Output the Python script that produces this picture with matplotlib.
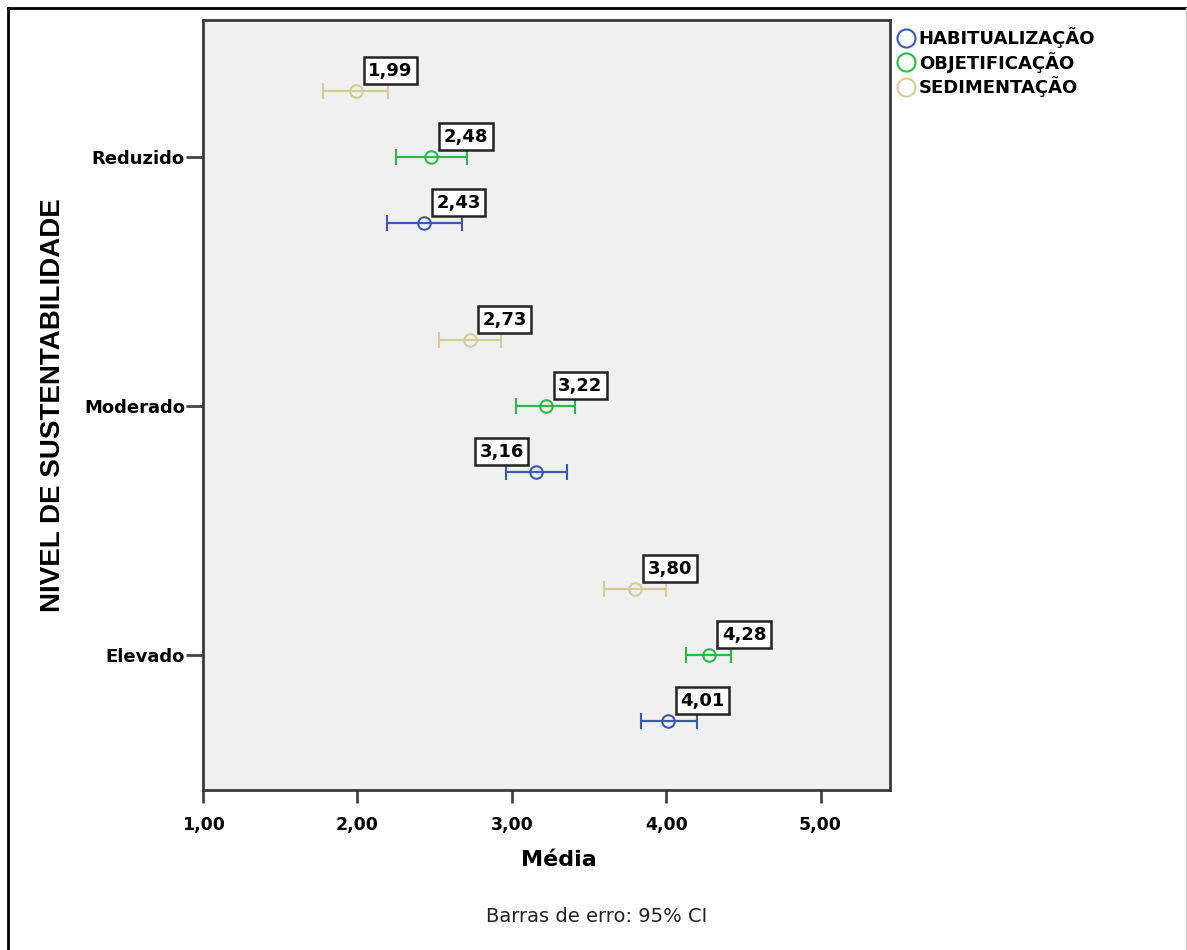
import matplotlib
matplotlib.use('Agg')
from matplotlib import pyplot as plt
from matplotlib.lines import Line2D
from matplotlib.ticker import FuncFormatter

# dados (médias e IC 95%)
niveis = ['Reduzido', 'Moderado', 'Elevado']
series = ['HABITUALIZAÇÃO', 'OBJETIFICAÇÃO', 'SEDIMENTAÇÃO']
cores = ['#3E58AC', '#2EB848', '#D3CE97']

hab_media = [2.43, 3.16, 4.01]
hab_low = [2.19, 2.96, 3.84]
hab_high = [2.68, 3.36, 4.20]

obj_media = [2.48, 3.22, 4.28]
obj_low = [2.25, 3.03, 4.13]
obj_high = [2.71, 3.41, 4.42]

sed_media = [1.99, 2.73, 3.80]
sed_low = [1.78, 2.53, 3.60]
sed_high = [2.20, 2.93, 4.00]

x_ticks = [1, 2, 3, 4, 5]

medias = [hab_media, obj_media, sed_media]
lows = [hab_low, obj_low, sed_low]
highs = [hab_high, obj_high, sed_high]
offsets = [0.265, 0.0, -0.265]
# rótulo à esquerda do ponto (evita sobreposição)
rotulo_esq = [('HABITUALIZAÇÃO', 'Moderado')]

fig = plt.figure(figsize=(11.87, 9.5), dpi=100)
ax = fig.add_axes([203 / 1187, 1 - 790 / 950, (890 - 203) / 1187, (790 - 20) / 950])
ax.set_facecolor('#F0F0F0')

for s, nome in enumerate(series):
    ys = [i + offsets[s] for i in range(len(niveis))]
    m = medias[s]
    err = [[m[i] - lows[s][i] for i in range(3)], [highs[s][i] - m[i] for i in range(3)]]
    ax.errorbar(m, ys, xerr=err, fmt='o', color=cores[s], mfc='none', mec=cores[s],
                ms=9, mew=1.5, elinewidth=1.6, capsize=6, capthick=1.6)
    for i in range(3):
        txt = f"{m[i]:.2f}".replace('.', ',')
        if (nome, niveis[i]) in rotulo_esq:
            xt, ha = (-9, 8), 'right'
        else:
            xt, ha = (9, 8), 'left'
        ax.annotate(txt, (m[i], ys[i]), xytext=xt, textcoords='offset points',
                    ha=ha, va='bottom', fontsize=13, fontweight='bold', family='DejaVu Sans',
                    bbox=dict(boxstyle='square,pad=0.25', fc='white', ec='#222222', lw=1.8))

ax.set_xlim(1, 5.45)
ax.set_ylim(2.542, -0.55)
ax.set_xticks(x_ticks)
ax.xaxis.set_major_formatter(FuncFormatter(lambda v, p: f"{v:.2f}".replace('.', ',')))
ax.set_yticks(range(len(niveis)))
ax.set_yticklabels(niveis)
for lab in ax.get_xticklabels():
    lab.set_fontsize(12.5)
    lab.set_fontweight('bold')
for lab in ax.get_yticklabels():
    lab.set_fontsize(13)
    lab.set_fontweight('bold')
ax.tick_params(axis='x', length=9, width=2, color='#444444', pad=10)
ax.tick_params(axis='y', length=12, width=2, color='#444444', pad=1)
for sp in ax.spines.values():
    sp.set_color('#3a3a3a')
    sp.set_linewidth(2)

fig.text(559 / 1187, 1 - 860 / 950, 'Média', ha='center', va='center',
         fontsize=16, fontweight='bold')
fig.text(597 / 1187, 1 - 916 / 950, 'Barras de erro: 95% CI', ha='center', va='center',
         fontsize=14, color='#222222')
fig.text(53 / 1187, 1 - 405 / 950, 'NIVEL DE SUSTENTABILIDADE', rotation=90,
         ha='center', va='center', fontsize=20, fontweight='bold', family='Liberation Sans')

handles = [Line2D([], [], ls='none', marker='o', ms=13, mfc='none', mec=c, mew=1.5) for c in cores]
fig.legend(handles, series, loc='upper left', bbox_to_anchor=(888 / 1187, 1 - 20 / 950),
           frameon=False, handletextpad=0.1, labelspacing=0.2, borderaxespad=0,
           prop=dict(weight='bold', size=13), handlelength=1.2)

# moldura da figura
fig.add_artist(Line2D([8 / 1187, 8 / 1187], [0, 1 - 8 / 950], color='black', lw=2, transform=fig.transFigure))
fig.add_artist(Line2D([8 / 1187, 1], [1 - 8 / 950, 1 - 8 / 950], color='black', lw=2, transform=fig.transFigure))
fig.add_artist(Line2D([1186 / 1187, 1186 / 1187], [0, 1 - 8 / 950], color='#cccccc', lw=1, transform=fig.transFigure))

fig.savefig('out.png', dpi=100)
